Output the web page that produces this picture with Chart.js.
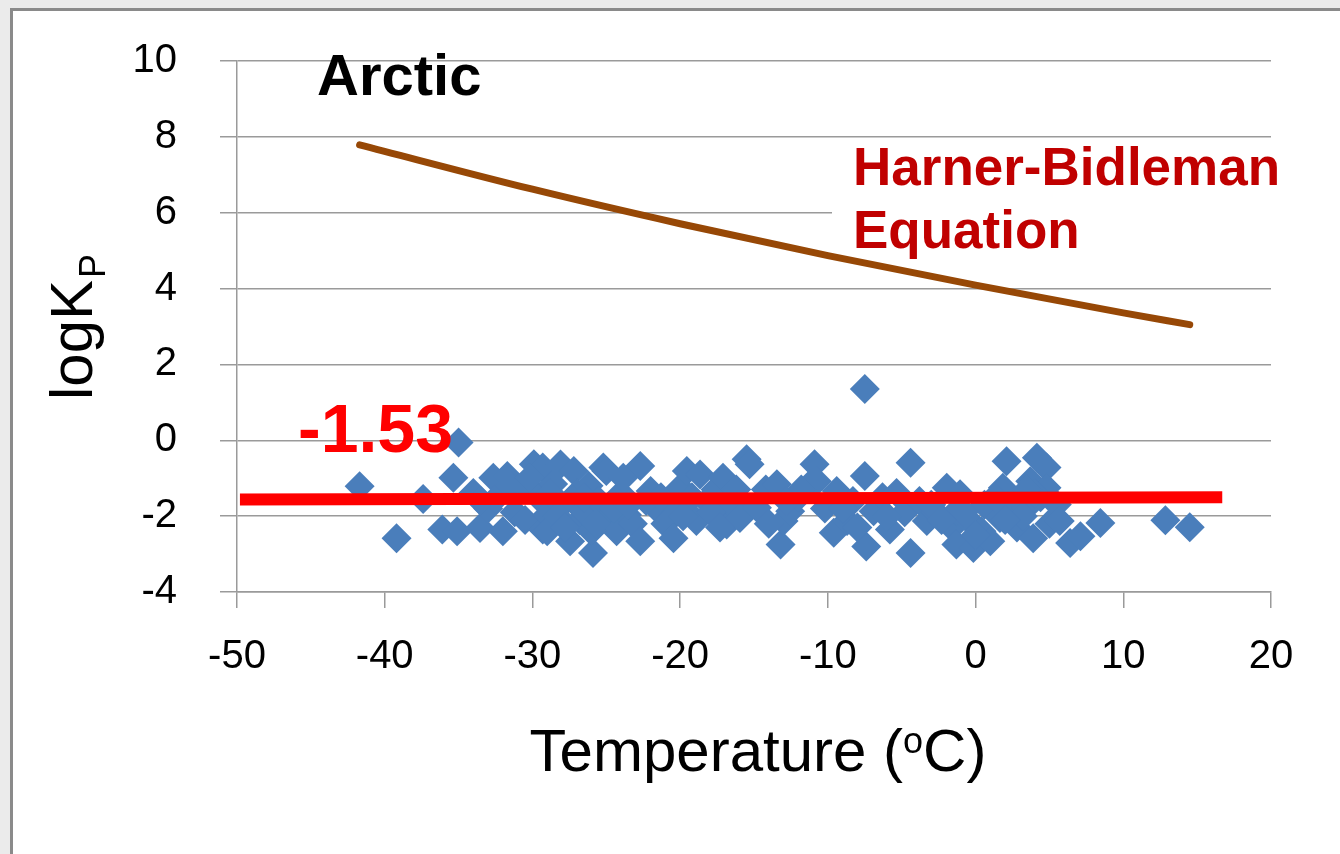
<!DOCTYPE html>
<html>
<head>
<meta charset="utf-8">
<script src="https://cdn.jsdelivr.net/npm/chart.js@4.4.0/dist/chart.umd.min.js"></script>
<style>
  body { margin: 0; background: #ebebeb; overflow: hidden; }
  #frame { position: absolute; left: 10px; top: 8px; width: 1400px; height: 900px; background: #fff; border: 3px solid #8a8a8a; }
  #myChart { position: absolute; left: 0; top: 0; }
</style>
</head>
<body>
<div id="frame"></div>
<canvas id="myChart" width="1340" height="854"></canvas>
<script>
// measured points (temperature in C, logKp)
const tempC = [-41.7, -39.2, -37.4, -36.1, -35.1, -35.35, -35.0, -34.0, -33.55, -33.0, -32.65, -32.5, -32.0, -31.7, -31.2, -30.8, -30.5, -29.9, -29.6, -29.3, -29.3, -29.0, -29.0, -28.6, -28.1, -28.0, -27.45, -27.2, -27.0, -26.8, -26.55, -26.2, -25.9, -25.5, -25.2, -25.0, -24.8, -24.3, -24.0, -23.85, -23.6, -23.2, -22.7, -22.7, -22.0, -21.6, -21.0, -20.45, -20.45, -20.0, -19.55, -19.2, -18.9, -18.65, -18.2, -17.6, -17.1, -16.85, -16.5, -15.95, -15.5, -15.3, -14.8, -14.2, -13.45, -13.2, -13.0, -12.55, -12.0, -11.3, -10.9, -10.75, -10.2, -9.6, -9.4, -8.7, -8.3, -7.5, -7.5, -7.4, -6.9, -6.3, -5.8, -5.35, -4.8, -4.4, -4.4, -3.8, -3.3, -2.7, -1.95, -1.6, -1.3, -1.3, -1.05, -0.4, -0.15, 0.4, 0.6, 1.0, 1.65, 1.85, 2.1, 2.4, 2.8, 3.45, 3.7, 3.9, 4.15, 4.4, 4.8, 4.8, 5.0, 5.5, 5.7, 6.4, 7.1, 8.45, 12.85, 14.5,
  -33.5, -31.5, -28.3, -26.0, -24.5, -22.3, -19.8, -17.9, -16.2, -14.0, -11.8, -9.0, -6.0, -3.0, -0.8, 1.3, 3.2, 4.0,
  -30.2, -28.8, -27.8, -26.5, -25.7, -23.5, -21.3, -17.3, -12.8, -8.0, -2.3, 0.0, 2.0, 3.5];
const logKp = [-1.21, -2.58, -1.55, -2.35, -2.40, -0.99, -0.06, -1.39, -2.31, -1.8, -0.99, -1.55, -2.4, -0.94, -1.9, -1.3, -2.1, -0.63, -1.5, -0.72, -2.35, -1.96, -2.4, -1.15, -0.64, -1.7, -2.66, -0.81, -1.4, -2.1, -1.87, -1.2, -2.97, -1.6, -0.72, -0.81, -2.0, -2.4, -1.4, -0.99, -1.96, -2.2, -0.68, -2.66, -1.34, -1.8, -2.2, -2.58, -1.69, -1.25, -0.81, -1.5, -2.13, -0.9, -1.61, -1.3, -0.99, -2.22, -1.7, -2.05, -0.5, -0.63, -1.78, -1.3, -1.16, -2.75, -2.13, -1.87, -1.5, -1.2, -0.63, -1.08, -1.8, -2.44, -1.34, -2.13, -1.6, 1.35, -0.94, -2.8, -1.87, -1.5, -2.35, -1.39, -1.9, -0.59, -2.97, -1.6, -2.13, -1.9, -1.25, -2.3, -2.75, -1.87, -1.42, -2.13, -2.84, -2.4, -1.7, -2.66, -2.05, -1.25, -0.55, -1.6, -2.3, -1.78, -1.08, -2.58, -0.46, -1.5, -0.72, -1.25, -2.2, -1.69, -2.13, -2.71, -2.53, -2.18, -2.11, -2.29,
  -1.6, -1.2, -2.0, -2.4, -1.8, -1.6, -2.0, -1.9, -1.3, -2.2, -1.3, -1.8, -2.0, -1.7, -1.9, -1.5, -2.0, -1.4,
  -1.0, -1.4, -2.3, -1.5, -2.2, -1.7, -1.5, -2.3, -1.6, -2.3, -2.1, -2.5, -2.1, -1.3];

// Harner-Bidleman curve
const hbTemp = [-41.7, -30, -20, -10, 0, 10, 14.5];
const hbLogKp = [7.79, 6.62, 5.71, 4.87, 4.09, 3.36, 3.05];

// mean line
const meanTemp = [-49.8, 16.7];
const meanLogKp = [-1.56, -1.50];

const xTicks = [-50, -40, -30, -20, -10, 0, 10, 20];
const yTicks = [-4, -2, 0, 2, 4, 6, 8, 10];

const FONT = "'Liberation Sans', Arial, sans-serif";

function pairs(xs, ys) {
  return xs.map((x, i) => ({ x: x, y: ys[i] }));
}

const textPlugin = {
  id: "textPlugin",
  beforeDatasetsDraw(chart) {
    const ctx = chart.ctx;
    // white box behind the equation label
    ctx.save();
    ctx.fillStyle = "#ffffff";
    ctx.fillRect(832, 142, 460, 110);
    ctx.restore();
  },
  afterDraw(chart) {
    const ctx = chart.ctx;
    ctx.save();
    ctx.textBaseline = "alphabetic";
    ctx.textAlign = "left";

    ctx.fillStyle = "#000";
    ctx.font = "bold 58px " + FONT;
    ctx.fillText("Arctic", 317, 95);

    ctx.fillStyle = "#c00000";
    ctx.font = "bold 53px " + FONT;
    ctx.fillText("Harner-Bidleman", 853, 185);
    ctx.fillText("Equation", 853, 248);

    ctx.fillStyle = "#ff0000";
    ctx.font = "bold 68px " + FONT;
    ctx.fillText("-1.53", 298, 452);

    // x axis title with superscript o
    ctx.fillStyle = "#000";
    ctx.font = "60px " + FONT;
    const a = "Temperature (";
    const c = "C)";
    const wa = ctx.measureText(a).width;
    const wc = ctx.measureText(c).width;
    ctx.font = "36px " + FONT;
    const wo = ctx.measureText("o").width;
    let x = 758 - (wa + wo + wc) / 2;
    ctx.font = "60px " + FONT;
    ctx.fillText(a, x, 771);
    ctx.font = "36px " + FONT;
    ctx.fillText("o", x + wa, 753);
    ctx.font = "60px " + FONT;
    ctx.fillText(c, x + wa + wo, 771);

    // y axis title with subscript P
    ctx.translate(92, 400);
    ctx.rotate(-Math.PI / 2);
    ctx.font = "60px " + FONT;
    ctx.fillText("logK", 0, 0);
    const wl = ctx.measureText("logK").width;
    ctx.font = "36px " + FONT;
    ctx.fillText("P", wl + 2, 13);
    ctx.restore();
  },
};

const config = {
  type: "scatter",
  data: {
    datasets: [
      {
        label: "mean",
        data: pairs(meanTemp, meanLogKp),
        showLine: true,
        borderColor: "#ff0000",
        borderWidth: 12,
        pointRadius: 0,
        order: 0,
      },
      {
        label: "Harner-Bidleman",
        data: pairs(hbTemp, hbLogKp),
        showLine: true,
        cubicInterpolationMode: "monotone",
        borderColor: "#974806",
        borderWidth: 7,
        borderCapStyle: "round",
        pointRadius: 0,
        order: 1,
      },
      {
        label: "measured",
        data: pairs(tempC, logKp),
        pointStyle: "rectRot",
        pointRadius: 15,
        borderWidth: 0,
        backgroundColor: "#4a7ebb",
        borderColor: "#4a7ebb",
        order: 2,
      },
    ],
  },
  options: {
    responsive: false,
    animation: false,
    layout: { padding: { top: 61, right: 69, left: 0, bottom: 0 } },
    plugins: {
      legend: { display: false },
      tooltip: { enabled: false },
    },
    scales: {
      x: {
        type: "linear",
        min: -50,
        max: 20,
        afterBuildTicks: (scale) => {
          scale.ticks = xTicks.map((v) => ({ value: v }));
        },
        afterFit: (scale) => {
          scale.height = 262;
        },
        grid: {
          drawOnChartArea: false,
          color: "#9a9a9a",
          lineWidth: 1.5,
          tickLength: 16,
        },
        border: { color: "#9a9a9a", width: 1.5 },
        ticks: {
          color: "#000",
          font: { family: FONT, size: 40 },
          padding: 25,
          maxRotation: 0,
        },
      },
      y: {
        type: "linear",
        min: -4,
        max: 10,
        afterBuildTicks: (scale) => {
          scale.ticks = yTicks.map((v) => ({ value: v }));
        },
        afterFit: (scale) => {
          scale.width = 237;
        },
        grid: {
          color: "#9a9a9a",
          lineWidth: 1.5,
          tickLength: 17,
        },
        border: { color: "#9a9a9a", width: 1.5 },
        ticks: {
          color: "#000",
          font: { family: FONT, size: 40, lineHeight: 0.9 },
          padding: 43,
        },
      },
    },
  },
  plugins: [textPlugin],
};

const myChart = new Chart(document.getElementById("myChart"), config);
</script>
</body>
</html>
